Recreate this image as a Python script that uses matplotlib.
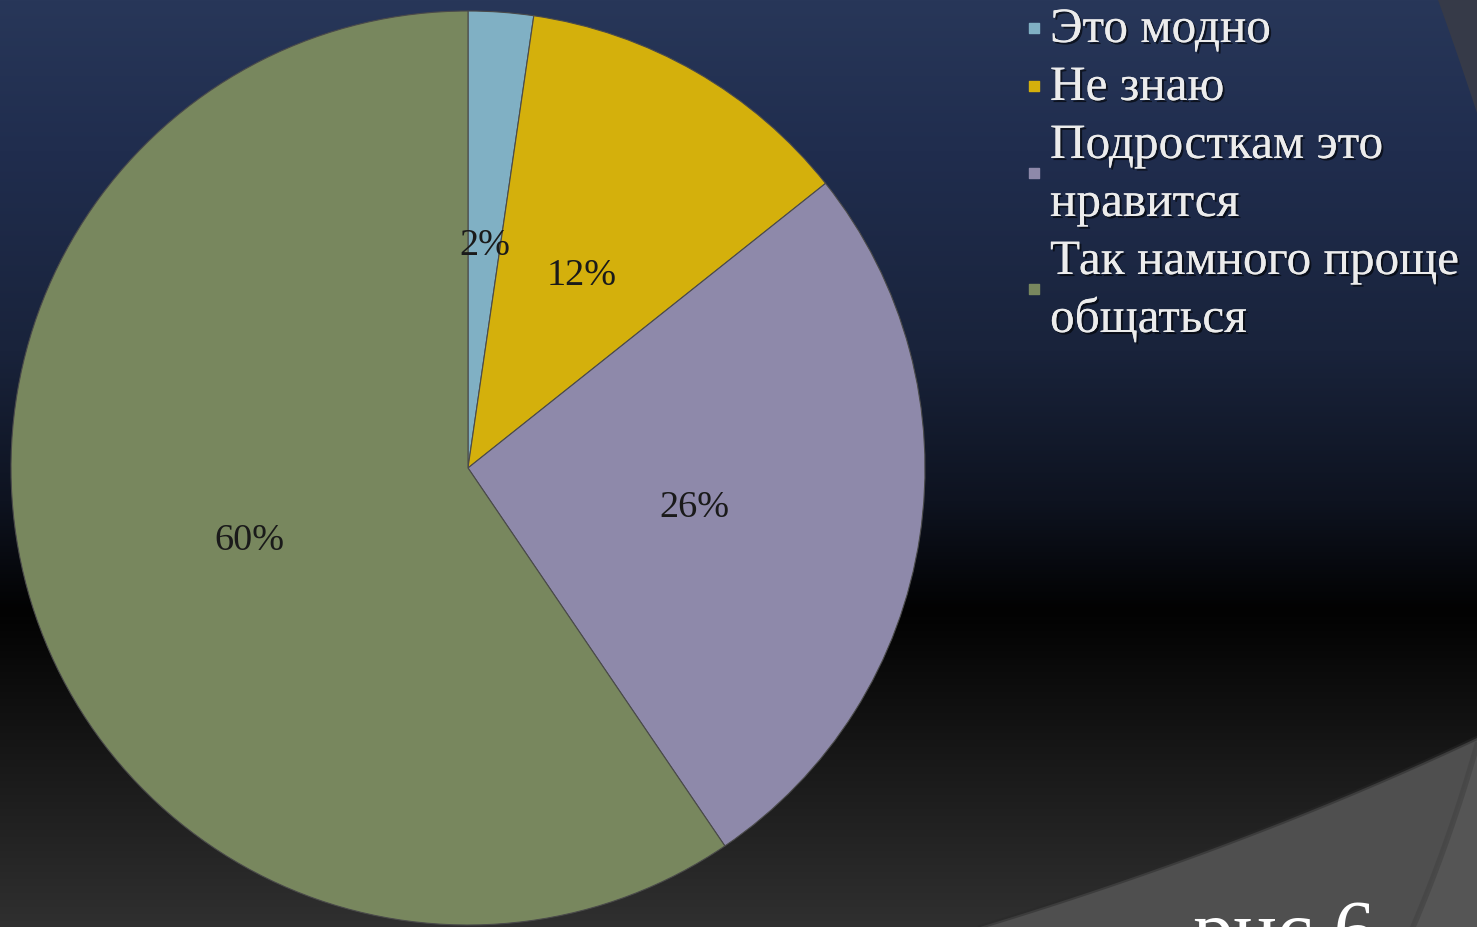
import numpy as np
import matplotlib.pyplot as plt
import matplotlib.patheffects as pe
from matplotlib.colors import to_rgb

# ==== Data ====
labels = ['Это модно', 'Не знаю', 'Подросткам это\nнравится', 'Так намного проще\nобщаться']
values = [2.3, 12.0, 26.2, 59.5]
colors = ['#80b0c4', '#d4b00c', '#8e89aa', '#78875e']

W, H = 1477, 927
fig = plt.figure(figsize=(W / 100, H / 100), dpi=100)

# ==== Background (slide gradient + decorative shapes) ====
bg = fig.add_axes([0, 0, 1, 1], zorder=0)
bg.set_xlim(0, W)
bg.set_ylim(H, 0)
bg.axis('off')

stops_y = [0, 150, 350, 500, 610, 760, 927]
stops_c = ['#283759', '#202d4e', '#19233b', '#0e1320', '#020202', '#181818', '#303030']
ys = np.arange(H)
rgb = np.array([to_rgb(c) for c in stops_c])
grad = np.stack([np.interp(ys, stops_y, rgb[:, k]) for k in range(3)], axis=1)
img = np.repeat(grad[:, None, :], 2, axis=1)
bg.imshow(img, extent=[0, W, H, 0], aspect='auto', zorder=0)

def bezier(p0, p1, p2, n=60):
    t = np.linspace(0, 1, n)[:, None]
    return (1 - t) ** 2 * np.array(p0) + 2 * (1 - t) * t * np.array(p1) + t ** 2 * np.array(p2)

# lower-right grey area
c1 = bezier((980, 927), (1250, 845), (1477, 738))
poly = np.vstack([c1, [(1477, 927)]])
bg.fill(poly[:, 0], poly[:, 1], color='#4f4f4f', zorder=1, lw=0)
bg.plot(c1[:, 0], c1[:, 1], color='#2a2a2a', lw=3, alpha=0.5, zorder=1)
# right strip
c2 = bezier((1477, 745), (1450, 840), (1413, 927))
poly2 = np.vstack([c2, [(1477, 927)]])
bg.fill(poly2[:, 0], poly2[:, 1], color='#555555', zorder=2, lw=0)
bg.plot(c2[:, 0], c2[:, 1], color='#444444', lw=4, alpha=0.7, zorder=2)
# top-right strip
c3 = bezier((1438, 0), (1458, 55), (1477, 113))
poly3 = np.vstack([c3, [(1477, 0)]])
bg.fill(poly3[:, 0], poly3[:, 1], color='#363a48', zorder=1, lw=0)

# ==== Pie ====
ax = fig.add_axes([11 / W, 2 / H, 914 / W, 914 / H], zorder=2)
ax.axis('off')
wedges, texts, autotexts = ax.pie(
    values, colors=colors, startangle=90, counterclock=False, radius=1,
    autopct='%.0f%%', pctdistance=0.5,
    wedgeprops=dict(edgecolor='#4a4a4a', linewidth=0.8),
    textprops=dict(family='Liberation Serif', fontsize=27.5, color='#1a1a1a'))
for t in autotexts:
    x, y0 = t.get_position()
    t.set_position((x, y0 - 0.012))
ax.set_xlim(-1, 1)
ax.set_ylim(-1, 1)

# ==== Legend ====
shadow = [pe.withSimplePatchShadow(offset=(1.5, -1.5), shadow_rgbFace='black', alpha=0.6), pe.Normal()]
line_h = 58
y = 42
for lab, col in zip(labels, colors):
    lines = lab.split('\n')
    for i, ln in enumerate(lines):
        fig.text(1050 / W, 1 - (y + i * line_h) / H, ln, family='Liberation Serif', fontsize=35.5,
                 color='#ececec', va='baseline', ha='left', path_effects=shadow, zorder=5)
    mid = y - 14 + (len(lines) - 1) * line_h / 2
    bg.scatter([1034], [mid], marker='s', s=45, color=col, zorder=5)
    y += len(lines) * line_h

# ==== Caption ====
fig.text(1193 / W, 1 - 957 / H, 'рис.6', family='Liberation Serif', fontsize=59,
         color='white', va='baseline', ha='left', zorder=5)

fig.savefig('out.png', dpi=100)
